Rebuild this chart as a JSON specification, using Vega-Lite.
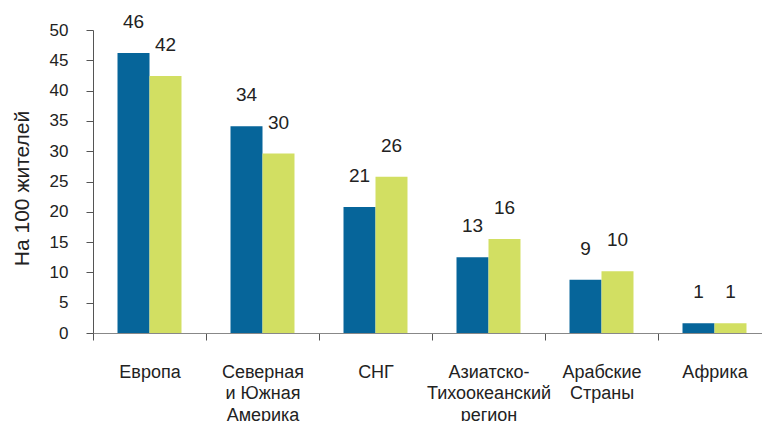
{
  "$schema": "https://vega.github.io/schema/vega-lite/v6.json",
  "width": 669,
  "height": 303,
  "autosize": {"type": "none"},
  "padding": {"left": 93, "top": 30, "right": 0, "bottom": 88},
  "config": {"view": {"stroke": null}, "font": "Liberation Sans"},
  "data": {
    "values": [
      {"region": "Европа", "series": "Ряд 1", "value": 46.2, "label": "46"},
      {"region": "Европа", "series": "Ряд 2", "value": 42.4, "label": "42"},
      {"region": "Северная|и Южная|Америка", "series": "Ряд 1", "value": 34.1, "label": "34"},
      {"region": "Северная|и Южная|Америка", "series": "Ряд 2", "value": 29.6, "label": "30"},
      {"region": "СНГ", "series": "Ряд 1", "value": 20.8, "label": "21"},
      {"region": "СНГ", "series": "Ряд 2", "value": 25.8, "label": "26"},
      {"region": "Азиатско-|Тихоокеанский|регион", "series": "Ряд 1", "value": 12.5, "label": "13"},
      {"region": "Азиатско-|Тихоокеанский|регион", "series": "Ряд 2", "value": 15.5, "label": "16"},
      {"region": "Арабские|Страны", "series": "Ряд 1", "value": 8.8, "label": "9"},
      {"region": "Арабские|Страны", "series": "Ряд 2", "value": 10.2, "label": "10"},
      {"region": "Африка", "series": "Ряд 1", "value": 1.6, "label": "1"},
      {"region": "Африка", "series": "Ряд 2", "value": 1.6, "label": "1"}
    ]
  },
  "encoding": {
    "x": {
      "field": "region",
      "type": "nominal",
      "sort": null,
      "scale": {"range": [0, 678], "paddingInner": 0, "paddingOuter": 0},
      "axis": {
        "title": null,
        "labelAngle": 0,
        "labelExpr": "isString(datum.value) ? split(datum.value, '|') : ''",
        "labelFontSize": 18,
        "labelLineHeight": 21.7,
        "labelColor": "#222222",
        "labelPadding": 23,
        "labelBaseline": "top",
        "labelLimit": 200,
        "tickBand": "extent",
        "tickSize": 7,
        "tickColor": "#555555",
        "domainColor": "#888888",
        "grid": false
      }
    },
    "xOffset": {
      "field": "series",
      "scale": {"paddingOuter": 0.766, "paddingInner": 0}
    },
    "y": {
      "field": "value",
      "type": "quantitative",
      "scale": {"domain": [0, 50], "nice": false},
      "axis": {
        "values": [0, 5, 10, 15, 20, 25, 30, 35, 40, 45, 50],
        "grid": false,
        "tickSize": 7,
        "tickColor": "#555555",
        "domainColor": "#555555",
        "labelFontSize": 17,
        "labelColor": "#222222",
        "labelPadding": 18,
        "title": "На 100 жителей",
        "titleFontSize": 21,
        "titleFontWeight": "normal",
        "titleColor": "#222222",
        "titleX": -71,
        "titleY": 158,
        "titleAngle": -90,
        "titleAlign": "center",
        "titleBaseline": "middle"
      }
    }
  },
  "layer": [
    {
      "mark": {"type": "bar"},
      "encoding": {
        "color": {
          "field": "series",
          "type": "nominal",
          "scale": {"range": ["#06659a", "#d2df62"]},
          "legend": null
        }
      }
    },
    {
      "mark": {"type": "text", "dy": -31, "baseline": "middle", "fontSize": 19, "color": "#222222"},
      "encoding": {"text": {"field": "label"}}
    }
  ]
}
